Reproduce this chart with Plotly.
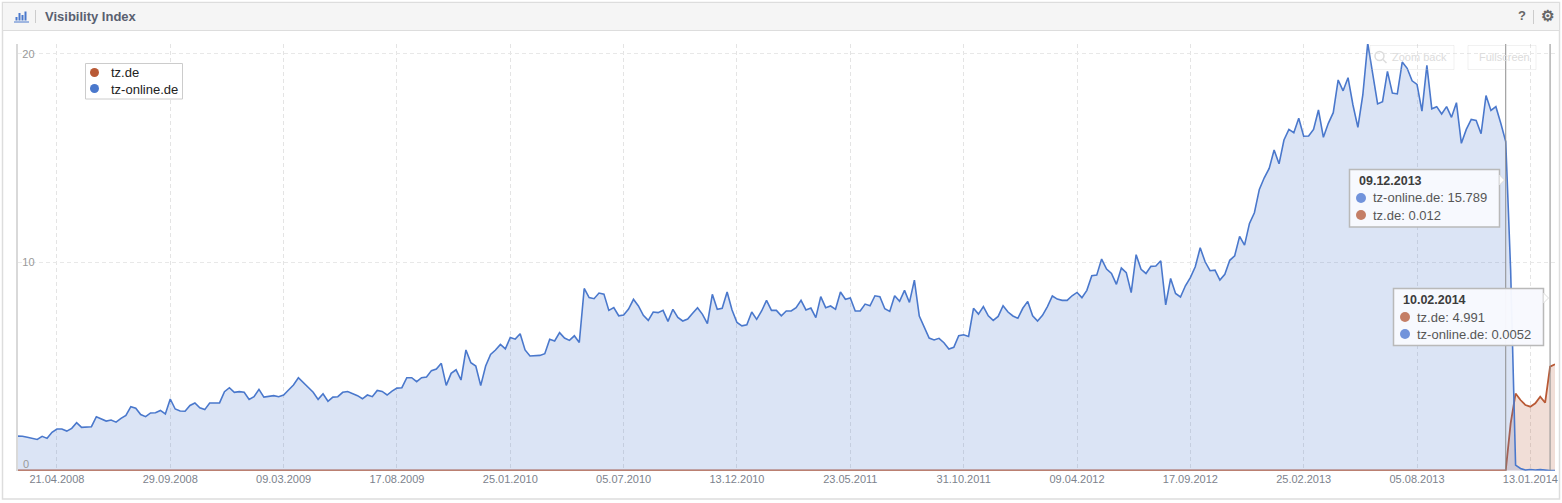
import pandas as pd
import plotly.graph_objects as go

W, H = 1562, 503

start_date = "2008-02-25"
tick_dates = ["2008-04-21", "2008-09-29", "2009-03-09", "2009-08-17", "2010-01-25", "2010-07-05", "2010-12-13",
              "2011-05-23", "2011-10-31", "2012-04-09", "2012-09-17", "2013-02-25", "2013-08-05", "2014-01-13"]
tick_labels = ["21.04.2008", "29.09.2008", "09.03.2009", "17.08.2009", "25.01.2010", "05.07.2010", "13.12.2010",
               "23.05.2011", "31.10.2011", "09.04.2012", "17.09.2012", "25.02.2013", "05.08.2013", "13.01.2014"]

tz_online = [
    1.66, 1.65, 1.60, 1.55, 1.50, 1.65, 1.55, 1.84, 2.00, 2.00, 1.90, 2.03, 2.30, 2.08, 2.11, 2.11, 2.59, 2.48, 2.38, 2.43,
    2.33, 2.51, 2.65, 3.07, 3.00, 2.69, 2.59, 2.77, 2.78, 2.89, 2.72, 3.44, 2.96, 2.86, 2.85, 3.13, 3.25, 3.02, 2.93, 3.25,
    3.25, 3.25, 3.79, 3.98, 3.76, 3.79, 3.76, 3.42, 3.55, 3.90, 3.53, 3.58, 3.60, 3.55, 3.63, 3.87, 4.11, 4.46, 4.22, 3.98,
    3.76, 3.42, 3.69, 3.33, 3.53, 3.55, 3.76, 3.80, 3.71, 3.60, 3.45, 3.63, 3.55, 3.85, 3.80, 3.63, 3.82, 3.96, 3.98, 4.46,
    4.46, 4.27, 4.46, 4.49, 4.80, 4.88, 5.15, 4.09, 4.67, 4.84, 4.35, 5.79, 5.18, 5.02, 4.08, 5.02, 5.58, 5.79, 6.06, 5.84,
    6.39, 6.31, 6.57, 5.79, 5.50, 5.50, 5.53, 5.61, 6.30, 6.22, 6.62, 6.36, 6.25, 6.47, 6.15, 8.74, 8.30, 8.25, 8.52, 8.47,
    7.69, 7.82, 7.43, 7.47, 7.75, 8.22, 7.90, 7.45, 7.21, 7.61, 7.58, 7.69, 7.16, 7.74, 7.35, 7.18, 7.27, 7.55, 7.82, 7.50,
    7.05, 8.46, 7.74, 7.79, 8.57, 7.71, 7.11, 6.95, 7.00, 7.61, 7.26, 7.66, 8.17, 7.69, 7.69, 7.43, 7.66, 7.66, 7.82, 8.17,
    7.71, 7.80, 7.34, 8.35, 7.82, 7.90, 7.74, 8.57, 8.22, 8.28, 7.66, 7.66, 7.99, 7.91, 8.39, 8.35, 7.77, 7.64, 8.39, 8.12,
    8.65, 8.07, 9.14, 7.42, 6.87, 6.36, 6.27, 6.35, 6.14, 5.84, 5.92, 6.47, 6.52, 6.44, 7.79, 7.51, 7.87, 7.43, 7.21, 7.40,
    7.91, 7.61, 7.42, 7.31, 7.79, 8.12, 7.43, 7.18, 7.45, 7.87, 8.38, 8.23, 8.17, 8.17, 8.39, 8.55, 8.30, 8.65, 9.35, 9.38,
    10.15, 9.67, 9.46, 8.94, 9.72, 9.50, 8.54, 10.36, 9.66, 9.46, 9.80, 9.82, 10.07, 7.95, 9.22, 8.50, 8.33, 8.87, 9.26, 9.78,
    10.69, 10.02, 9.59, 9.62, 9.14, 9.42, 10.09, 10.31, 11.24, 10.82, 11.86, 12.37, 13.49, 14.05, 14.50, 15.38, 14.72, 15.86, 16.37, 16.21,
    16.90, 16.04, 16.05, 16.37, 17.30, 15.99, 16.66, 17.17, 18.74, 18.22, 18.85, 17.54, 16.47, 18.02, 20.50, 18.98, 17.59, 17.70, 19.15, 18.11,
    18.07, 19.60, 19.30, 18.70, 18.53, 17.25, 19.44, 17.36, 17.46, 17.11, 17.46, 16.95, 17.65, 15.70, 16.37, 16.85, 16.80, 16.16, 17.99, 17.28,
    17.46, 16.66, 15.789, 9.60, 0.27, 0.11, 0.03, 0.06, 0.03, 0.05, 0.02, 0.0052, 0.005,
]

tz_de = [
    0.01, 0.01, 0.01, 0.01, 0.01, 0.01, 0.01, 0.01, 0.01, 0.01, 0.01, 0.01, 0.01, 0.01, 0.01, 0.01, 0.01, 0.01, 0.01, 0.01,
    0.01, 0.01, 0.01, 0.01, 0.01, 0.01, 0.01, 0.01, 0.01, 0.01, 0.01, 0.01, 0.01, 0.01, 0.01, 0.01, 0.01, 0.01, 0.01, 0.01,
    0.01, 0.01, 0.01, 0.01, 0.01, 0.01, 0.01, 0.01, 0.01, 0.01, 0.01, 0.01, 0.01, 0.01, 0.01, 0.01, 0.01, 0.01, 0.01, 0.01,
    0.01, 0.01, 0.01, 0.01, 0.01, 0.01, 0.01, 0.01, 0.01, 0.01, 0.01, 0.01, 0.01, 0.01, 0.01, 0.01, 0.01, 0.01, 0.01, 0.01,
    0.01, 0.01, 0.01, 0.01, 0.01, 0.01, 0.01, 0.01, 0.01, 0.01, 0.01, 0.01, 0.01, 0.01, 0.01, 0.01, 0.01, 0.01, 0.01, 0.01,
    0.01, 0.01, 0.01, 0.01, 0.01, 0.01, 0.01, 0.01, 0.01, 0.01, 0.01, 0.01, 0.01, 0.01, 0.01, 0.01, 0.01, 0.01, 0.01, 0.01,
    0.01, 0.01, 0.01, 0.01, 0.01, 0.01, 0.01, 0.01, 0.01, 0.01, 0.01, 0.01, 0.01, 0.01, 0.01, 0.01, 0.01, 0.01, 0.01, 0.01,
    0.01, 0.01, 0.01, 0.01, 0.01, 0.01, 0.01, 0.01, 0.01, 0.01, 0.01, 0.01, 0.01, 0.01, 0.01, 0.01, 0.01, 0.01, 0.01, 0.01,
    0.01, 0.01, 0.01, 0.01, 0.01, 0.01, 0.01, 0.01, 0.01, 0.01, 0.01, 0.01, 0.01, 0.01, 0.01, 0.01, 0.01, 0.01, 0.01, 0.01,
    0.01, 0.01, 0.01, 0.01, 0.01, 0.01, 0.01, 0.01, 0.01, 0.01, 0.01, 0.01, 0.01, 0.01, 0.01, 0.01, 0.01, 0.01, 0.01, 0.01,
    0.01, 0.01, 0.01, 0.01, 0.01, 0.01, 0.01, 0.01, 0.01, 0.01, 0.01, 0.01, 0.01, 0.01, 0.01, 0.01, 0.01, 0.01, 0.01, 0.01,
    0.01, 0.01, 0.01, 0.01, 0.01, 0.01, 0.01, 0.01, 0.01, 0.01, 0.01, 0.01, 0.01, 0.01, 0.01, 0.01, 0.01, 0.01, 0.01, 0.01,
    0.01, 0.01, 0.01, 0.01, 0.01, 0.01, 0.01, 0.01, 0.01, 0.01, 0.01, 0.01, 0.01, 0.01, 0.01, 0.01, 0.01, 0.01, 0.01, 0.01,
    0.01, 0.01, 0.01, 0.01, 0.01, 0.01, 0.01, 0.01, 0.01, 0.01, 0.01, 0.01, 0.01, 0.01, 0.01, 0.01, 0.01, 0.01, 0.01, 0.01,
    0.01, 0.01, 0.01, 0.01, 0.01, 0.01, 0.01, 0.01, 0.01, 0.01, 0.01, 0.01, 0.01, 0.01, 0.01, 0.01, 0.01, 0.01, 0.01, 0.01,
    0.01, 0.01, 0.012, 2.27, 3.70, 3.39, 3.15, 3.07, 3.23, 3.55, 3.26, 4.991, 5.10,
]
assert len(tz_online) == len(tz_de) == 313

dates = pd.date_range(start_date, periods=len(tz_online), freq="7D")

FONT = "Liberation Sans"
BLUE, RED = "#4a78cc", "#b95a36"
FILL_BLUE, FILL_RED = "rgba(74,120,204,0.2)", "rgba(185,90,54,0.2)"


def X(px):
    return px / W


def Y(px):
    return 1 - px / H


L, R, T, B = 17.5, 1555.0, 44.0, 470.7

fig = go.Figure()
fig.add_trace(go.Scatter(x=dates, y=tz_de, mode="lines", line=dict(color=RED, width=1.8), fill="tozeroy",
                         fillcolor=FILL_RED, showlegend=False, hoverinfo="skip", cliponaxis=False))
fig.add_trace(go.Scatter(x=dates, y=tz_online, mode="lines", line=dict(color=BLUE, width=1.6), fill="tozeroy",
                         fillcolor=FILL_BLUE, showlegend=False, hoverinfo="skip"))

shapes = []
annotations = []


def rect(x0, y0, x1, y1, fill="rgba(0,0,0,0)", line="rgba(0,0,0,0)", width=1, layer="above"):
    shapes.append(dict(type="rect", xref="paper", yref="paper", x0=X(x0), x1=X(x1), y0=Y(y0), y1=Y(y1),
                       fillcolor=fill, line=dict(color=line, width=width), layer=layer))


def seg(x0, y0, x1, y1, color, width=1, layer="above"):
    shapes.append(dict(type="line", xref="paper", yref="paper", x0=X(x0), x1=X(x1), y0=Y(y0), y1=Y(y1),
                       line=dict(color=color, width=width), layer=layer))


def circ(cx, cy, r, fill, line="rgba(0,0,0,0)", width=1):
    shapes.append(dict(type="circle", xref="paper", yref="paper", x0=X(cx - r), x1=X(cx + r), y0=Y(cy + r), y1=Y(cy - r),
                       fillcolor=fill, line=dict(color=line, width=width), layer="above"))


def text(x, y, s, size=13, color="#333333", anchor="left"):
    annotations.append(dict(xref="paper", yref="paper", x=X(x), y=Y(y), text=s, showarrow=False, xanchor=anchor,
                            yanchor="middle", borderpad=0, font=dict(family=FONT, size=size, color=color)))


# panel and header
rect(2.5, 2.5, 1559.5, 499, fill="#ffffff", line="#dddddd", width=1.5, layer="below")
rect(2.5, 2.5, 1559.5, 30.5, fill="#f5f5f5", line="#dddddd", width=1, layer="below")
text(43.5, 17, "<b>Visibility Index</b>", 13, "#596070")
seg(35.5, 10, 35.5, 23, "#cccccc")
for x0, y0 in [(15.5, 17), (18.5, 13), (21.5, 15), (24.5, 11.5)]:
    rect(x0, y0, x0 + 2, 20.5, fill="#4a78cc")
seg(14, 22, 29, 22, "#4a78cc")
text(1522, 16, "<b>?</b>", 13, "#666666", "center")
seg(1533.5, 10, 1533.5, 24, "#cccccc")
text(1547, 15.5, "<b>\u2699</b>", 15, "#666666", "center")

# y axis zero label
text(22, 464, "0", 11, "#999999")

# crosshair lines
for d in [dates[302], dates[311]]:
    shapes.append(dict(type="line", xref="x", yref="paper", x0=d, x1=d, y0=Y(B), y1=Y(T),
                       line=dict(color="#8e8e8e", width=1), layer="above"))

# faint buttons
rect(1370, 45.5, 1454, 69.5, line="rgba(200,200,200,0.25)")
rect(1468, 45.5, 1536, 69.5, line="rgba(200,200,200,0.25)")
circ(1379.5, 56, 4.5, "rgba(0,0,0,0)", "#dddddd", 1.5)
seg(1383, 59.5, 1386.5, 63, "#dddddd", 1.5)
text(1391, 57.5, "Zoom back", 11, "#dcdcdc")
text(1478, 57.5, "Fullscreen", 11, "#dcdcdc")

# legend
rect(85.5, 63.5, 182.5, 99, fill="#ffffff", line="#cccccc")
circ(94.5, 72.5, 4.5, RED)
circ(94.5, 88.5, 4.5, BLUE)
text(110, 73, "tz.de", 13, "#222222")
text(110, 89, "tz-online.de", 13, "#222222")

# tooltips
DOT_B, DOT_R = "#7193db", "#c47e66"
TIP_BG = "rgba(248,249,254,0.97)"
for (x0, y0, x1, y1, ax, ay) in [(1349.5, 169.5, 1499.5, 227, 1499.5, 175), (1393.5, 288.5, 1543.5, 345.5, 1543.5, 293)]:
    rect(x0, y0, x1, y1, fill=TIP_BG, line="#b9b9b9", width=1.5)
    shapes.append(dict(type="path", xref="paper", yref="paper",
                       path=f"M {X(ax)} {Y(ay)} L {X(ax + 5)} {Y(ay + 5)} L {X(ax)} {Y(ay + 10)} Z",
                       fillcolor="#ffffff", line=dict(color="#dddddd", width=1), layer="above"))

text(1358, 181, "<b>09.12.2013</b>", 12.5, "#3c3c3c")
circ(1361, 198, 5, DOT_B)
text(1372, 198, "tz-online.de:\u00a015.789", 13, "#565656")
circ(1361, 215, 5, DOT_R)
text(1372, 215, "tz.de:\u00a00.012", 13, "#565656")

text(1402, 300, "<b>10.02.2014</b>", 12.5, "#3c3c3c")
circ(1405, 317, 5, DOT_R)
text(1416, 317, "tz.de:\u00a04.991", 13, "#565656")
circ(1405, 334, 5, DOT_B)
text(1416, 334, "tz-online.de:\u00a00.0052", 13, "#565656")

fig.update_layout(
    width=W, height=H, autosize=False,
    margin=dict(l=0, r=0, t=0, b=0, pad=0, autoexpand=False),
    paper_bgcolor="#ffffff", plot_bgcolor="rgba(0,0,0,0)",
    font=dict(family=FONT, size=11, color="#777777"),
    showlegend=False, shapes=shapes, annotations=annotations,
    xaxis=dict(domain=[X(L), X(R)], range=[dates[0], dates[-1]], tickvals=tick_dates, ticktext=tick_labels,
               tickangle=0, ticks="", showgrid=True, gridcolor="#e4e4e4", griddash="4px,3px", gridwidth=1,
               zeroline=False, showline=False, automargin=False,
               tickfont=dict(family=FONT, size=11, color="#7c828c")),
    yaxis=dict(domain=[Y(B), Y(T)], range=[0, (B - T) / 20.85], tickvals=[10, 20], ticktext=["10", "20"],
               ticklabelposition="inside", ticklabelstandoff=4, ticks="", showgrid=True, gridcolor="#e8e8e8",
               griddash="4px,3px", gridwidth=1,
               zeroline=False, showline=True, linecolor="#d9d9d9", linewidth=2, automargin=False,
               tickfont=dict(family=FONT, size=11, color="#999999")),
)

fig.write_html("out.html", config=dict(displayModeBar=False), default_width=f"{W}px", default_height=f"{H}px",
               post_script="document.body.style.margin='0';document.body.style.overflow='hidden';")
